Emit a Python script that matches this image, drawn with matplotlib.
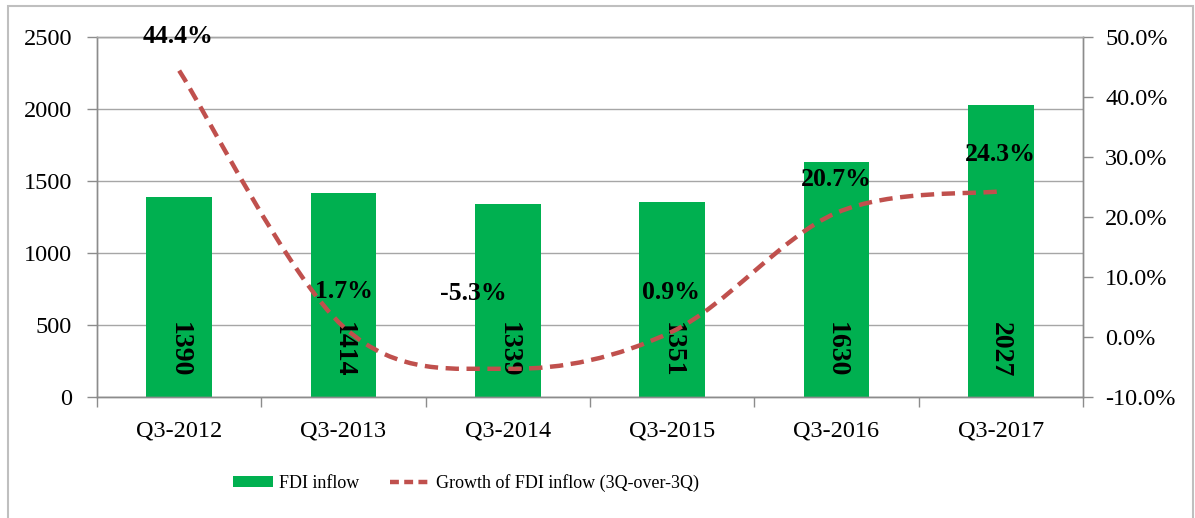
import matplotlib
matplotlib.use("Agg")
import matplotlib.pyplot as plt
from matplotlib.path import Path
from matplotlib.patches import PathPatch, Rectangle, Patch
from matplotlib.lines import Line2D
from matplotlib.ticker import FuncFormatter, FixedLocator

categories = ["Q3-2012", "Q3-2013", "Q3-2014", "Q3-2015", "Q3-2016", "Q3-2017"]
fdi_inflow = [1390, 1414, 1339, 1351, 1630, 2027]
growth_pct = [44.4, 1.7, -5.3, 0.9, 20.7, 24.3]
growth_labels = ["44.4%", "1.7%", "-5.3%", "0.9%", "20.7%", "24.3%"]
left_ticks = [0, 500, 1000, 1500, 2000, 2500]
right_ticks = [-10, 0, 10, 20, 30, 40, 50]

GREEN = "#00B050"
RED = "#C0504D"
GRID = "#A6A6A6"
AXC = "#8C8C8C"
FONT = "Liberation Serif"

plt.rcParams["font.family"] = [FONT, "DejaVu Serif"]

fig = plt.figure(figsize=(11.95, 5.18), dpi=100)
ax = fig.add_axes([97 / 1195, 1 - 397 / 518, (1083 - 97) / 1195, (397 - 37) / 518])
ax2 = ax.twinx()

x = list(range(len(categories)))
ax.bar(x, fdi_inflow, width=0.4, color=GREEN, zorder=2)
ax.set_xlim(-0.5, len(categories) - 0.5)
ax.set_ylim(0, 2500)
ax.yaxis.set_major_locator(FixedLocator(left_ticks))
ax.grid(axis="y", color=GRID, linewidth=1.0, zorder=0)
ax.set_axisbelow(True)

# category ticks at boundaries, labels centered
ax.xaxis.set_major_locator(FixedLocator([i - 0.5 for i in range(len(categories) + 1)]))
ax.xaxis.set_major_formatter(FuncFormatter(lambda v, p: ""))
ax.xaxis.set_minor_locator(FixedLocator(x))
ax.set_xticklabels(categories, minor=True)
ax.tick_params(axis="x", which="major", direction="out", length=7, color=AXC, width=1)
ax.tick_params(axis="x", which="minor", length=0, pad=17, labelsize=17.5)
ax.tick_params(axis="y", direction="out", length=7, color=AXC, width=1, pad=11, labelsize=17.5)

ax2.set_ylim(-10, 50)
ax2.yaxis.set_major_locator(FixedLocator(right_ticks))
ax2.yaxis.set_major_formatter(FuncFormatter(lambda v, p: f"{v:.1f}%"))
ax2.tick_params(axis="y", direction="out", length=7, color=AXC, width=1, pad=9, labelsize=17.5)

for a in (ax, ax2):
    for s in ("left", "right", "bottom"):
        a.spines[s].set_color(AXC)
        a.spines[s].set_linewidth(1.0)
    a.spines["top"].set_color(GRID)
    a.spines["top"].set_linewidth(1.0)

# Smoothed line (Catmull-Rom style bezier like Excel)
pts = list(zip(x, growth_pct))
n = len(pts)
verts = [pts[0]]
codes = [Path.MOVETO]
for i in range(n - 1):
    p0 = pts[i - 1] if i > 0 else pts[i]
    p1 = pts[i]
    p2 = pts[i + 1]
    p3 = pts[i + 2] if i + 2 < n else pts[i + 1]
    c1 = (p1[0] + (p2[0] - p0[0]) / 6, p1[1] + (p2[1] - p0[1]) / 6)
    c2 = (p2[0] - (p3[0] - p1[0]) / 6, p2[1] - (p3[1] - p1[1]) / 6)
    verts += [c1, c2, p2]
    codes += [Path.CURVE4] * 3
curve = PathPatch(Path(verts, codes), fill=False, edgecolor=RED, linewidth=3.2,
                  linestyle=(0, (3.0, 1.7)), capstyle="butt", zorder=3)
ax2.add_patch(curve)

# growth labels
label_offsets = [(-1, 34), (0, 35), (-35, 75), (-1, 39), (0, 33), (-1, 37)]
for i, (v, lab) in enumerate(zip(growth_pct, growth_labels)):
    ax2.annotate(lab, (i, v), xytext=label_offsets[i], textcoords="offset pixels",
                 ha="center", va="center", fontsize=18.5, fontweight="bold", zorder=5)

# bar value labels
for i, v in enumerate(fdi_inflow):
    ax.annotate(str(v), (i, 0), xytext=(0, 47), textcoords="offset pixels",
                ha="center", va="center", rotation=270, fontsize=20,
                fontweight="bold", zorder=4)

handles = [Patch(facecolor=GREEN, edgecolor="none"),
           Line2D([0], [0], color=RED, linewidth=3.2, linestyle=(0, (2.0, 1.2)))]
fig.legend(handles, ["FDI inflow", "Growth of FDI inflow (3Q-over-3Q)"],
           loc="center", bbox_to_anchor=(466 / 1195, 1 - 483 / 518), ncol=2,
           frameon=False, fontsize=13, handlelength=2.2, handleheight=0.55,
           columnspacing=1.75, handletextpad=0.3)

fig.patches.append(Rectangle((8 / 1195, -0.05), (1193 - 8) / 1195, 1.05 - 6 / 518,
                             transform=fig.transFigure, fill=False,
                             edgecolor="#BFBFBF", linewidth=1.5))

fig.savefig("out.png", dpi=100)
